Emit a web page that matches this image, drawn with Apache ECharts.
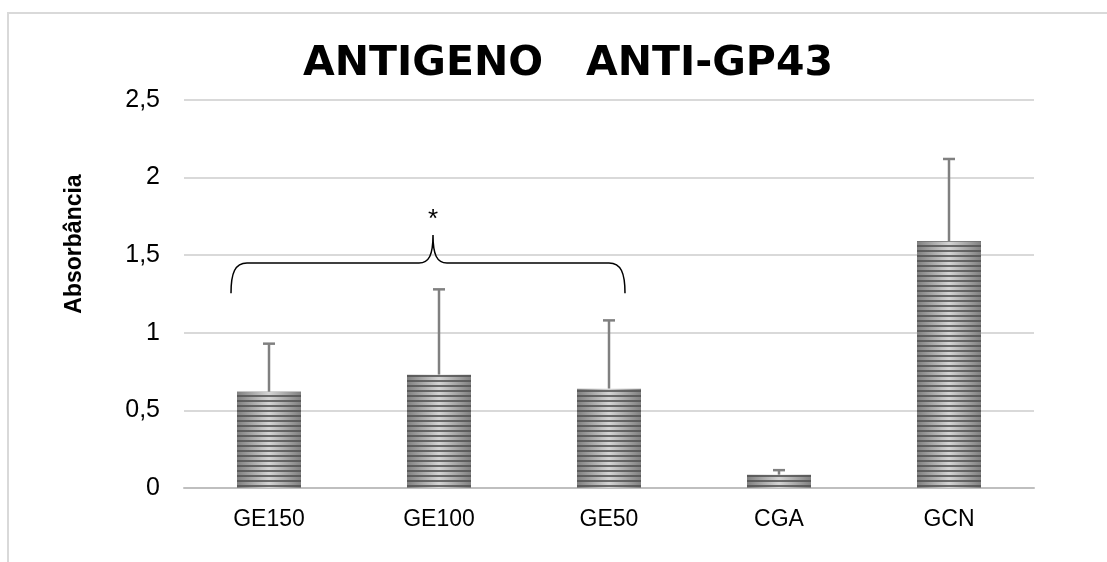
<!DOCTYPE html>
<html>
<head>
<meta charset="utf-8">
<script src="https://cdn.jsdelivr.net/npm/echarts@6/dist/echarts.min.js"></script>
<style>
html,body{margin:0;padding:0;background:#fff;}
#chart{width:1107px;height:562px;}
</style>
</head>
<body>
<div id="chart"></div>
<script>
var categories = ['GE150', 'GE100', 'GE50', 'CGA', 'GCN'];
var means = [0.62, 0.73, 0.64, 0.085, 1.59];
var errorsUpper = [0.93, 1.28, 1.08, 0.115, 2.12];
var yTicks = [0, 0.5, 1, 1.5, 2, 2.5];
// brace annotation: [startCategory, endCategory, lineLevel, endLevel, peakLevel, starLevel]
var braceSpec = [[0, 2, 1.45, 1.255, 1.63, 1.73]];
var braceLabel = ['*'];

var chart = echarts.init(document.getElementById('chart'));

var fmt = function (v) { return String(v).replace('.', ','); };

var option = {
  backgroundColor: '#ffffff',
  animation: false,
  title: {
    text: 'ANTIGENO   ANTI-GP43',
    left: 563, top: 39, textAlign: 'center',
    textStyle: { fontFamily: 'DejaVu Sans, sans-serif', fontSize: 41, fontWeight: 'bold', color: '#000' }
  },
  graphic: [
    { type: 'rect', shape: { x: 8, y: 13, width: 1200, height: 700 }, style: { fill: 'none', stroke: '#d9d9d9', lineWidth: 2 }, silent: true },
    { type: 'text', x: 75, y: 244, rotation: Math.PI / 2,
      style: { text: 'Absorbância', fill: '#000', font: 'bold 23px "Liberation Sans", Arial, sans-serif', textAlign: 'center', textVerticalAlign: 'middle' } }
  ],
  grid: { left: 184, right: 73, top: 100, bottom: 74 },
  xAxis: {
    type: 'category', data: categories,
    axisLine: { lineStyle: { color: '#bfbfbf', width: 2 } },
    axisTick: { show: false },
    axisLabel: { color: '#000', fontSize: 23, margin: 20, fontFamily: 'Liberation Sans, Arial, sans-serif' }
  },
  yAxis: {
    type: 'value', min: 0, max: 2.5, interval: 0.5,
    axisLine: { show: false }, axisTick: { show: false },
    splitLine: { lineStyle: { color: '#d9d9d9', width: 2 } },
    axisLabel: { color: '#000', fontSize: 25, margin: 24, fontFamily: 'Liberation Sans, Arial, sans-serif',
      formatter: function (v) { return yTicks.indexOf(v) >= 0 ? fmt(v) : ''; } }
  },
  series: [
    {
      type: 'bar', data: means, barWidth: 64,
      itemStyle: {
        color: new echarts.graphic.LinearGradient(0, 0, 1, 0, [
          { offset: 0, color: '#808080' }, { offset: 0.5, color: '#d4d4d4' }, { offset: 1, color: '#808080' }
        ]),
        decal: { symbol: 'rect', symbolSize: 1, dashArrayX: [1, 0], dashArrayY: [2, 3], rotation: 0, color: 'rgba(80,80,80,0.8)' }
      },
      z: 3
    },
    {
      type: 'custom', z: 2,
      data: errorsUpper.map(function (e, i) { return [i, means[i], e]; }),
      renderItem: function (params, api) {
        var base = api.coord([api.value(0), api.value(1)]);
        var top = api.coord([api.value(0), api.value(2)]);
        var st = { stroke: '#808080', lineWidth: 2.5 };
        return { type: 'group', children: [
          { type: 'line', shape: { x1: base[0], y1: base[1], x2: top[0], y2: top[1] }, style: st },
          { type: 'line', shape: { x1: top[0] - 6, y1: top[1], x2: top[0] + 6, y2: top[1] }, style: st }
        ] };
      }
    },
    {
      type: 'custom', z: 5,
      data: braceSpec,
      renderItem: function (params, api) {
        var d = braceSpec[params.dataIndex];
        var l = api.coord([d[0], d[2]]);
        var r = api.coord([d[1], d[2]]);
        var endY = api.coord([d[0], d[3]])[1];
        var peak = api.coord([(d[0] + d[1]) / 2, d[4]]);
        var star = api.coord([(d[0] + d[1]) / 2, d[5]]);
        var x0 = l[0] - 38, x1 = r[0] + 16, y = l[1];
        var px = peak[0] - 6, py = peak[1];
        var path = 'M' + x0 + ' ' + endY +
          ' C' + x0 + ' ' + (y + 10) + ' ' + (x0 + 4) + ' ' + y + ' ' + (x0 + 16) + ' ' + y +
          ' L' + (px - 14) + ' ' + y +
          ' C' + (px - 4) + ' ' + y + ' ' + px + ' ' + (y - 8) + ' ' + px + ' ' + py +
          ' C' + px + ' ' + (y - 8) + ' ' + (px + 4) + ' ' + y + ' ' + (px + 14) + ' ' + y +
          ' L' + (x1 - 16) + ' ' + y +
          ' C' + (x1 - 4) + ' ' + y + ' ' + x1 + ' ' + (y + 10) + ' ' + x1 + ' ' + endY;
        return { type: 'group', children: [
          { type: 'path', shape: { pathData: path }, style: { fill: 'none', stroke: '#000', lineWidth: 1.5 } },
          { type: 'text', x: px, y: star[1], style: { text: braceLabel[params.dataIndex], fill: '#000', font: '26px "Liberation Sans", Arial, sans-serif', textAlign: 'center', textVerticalAlign: 'middle' } }
        ] };
      }
    }
  ]
};
chart.setOption(option);
</script>
</body>
</html>
